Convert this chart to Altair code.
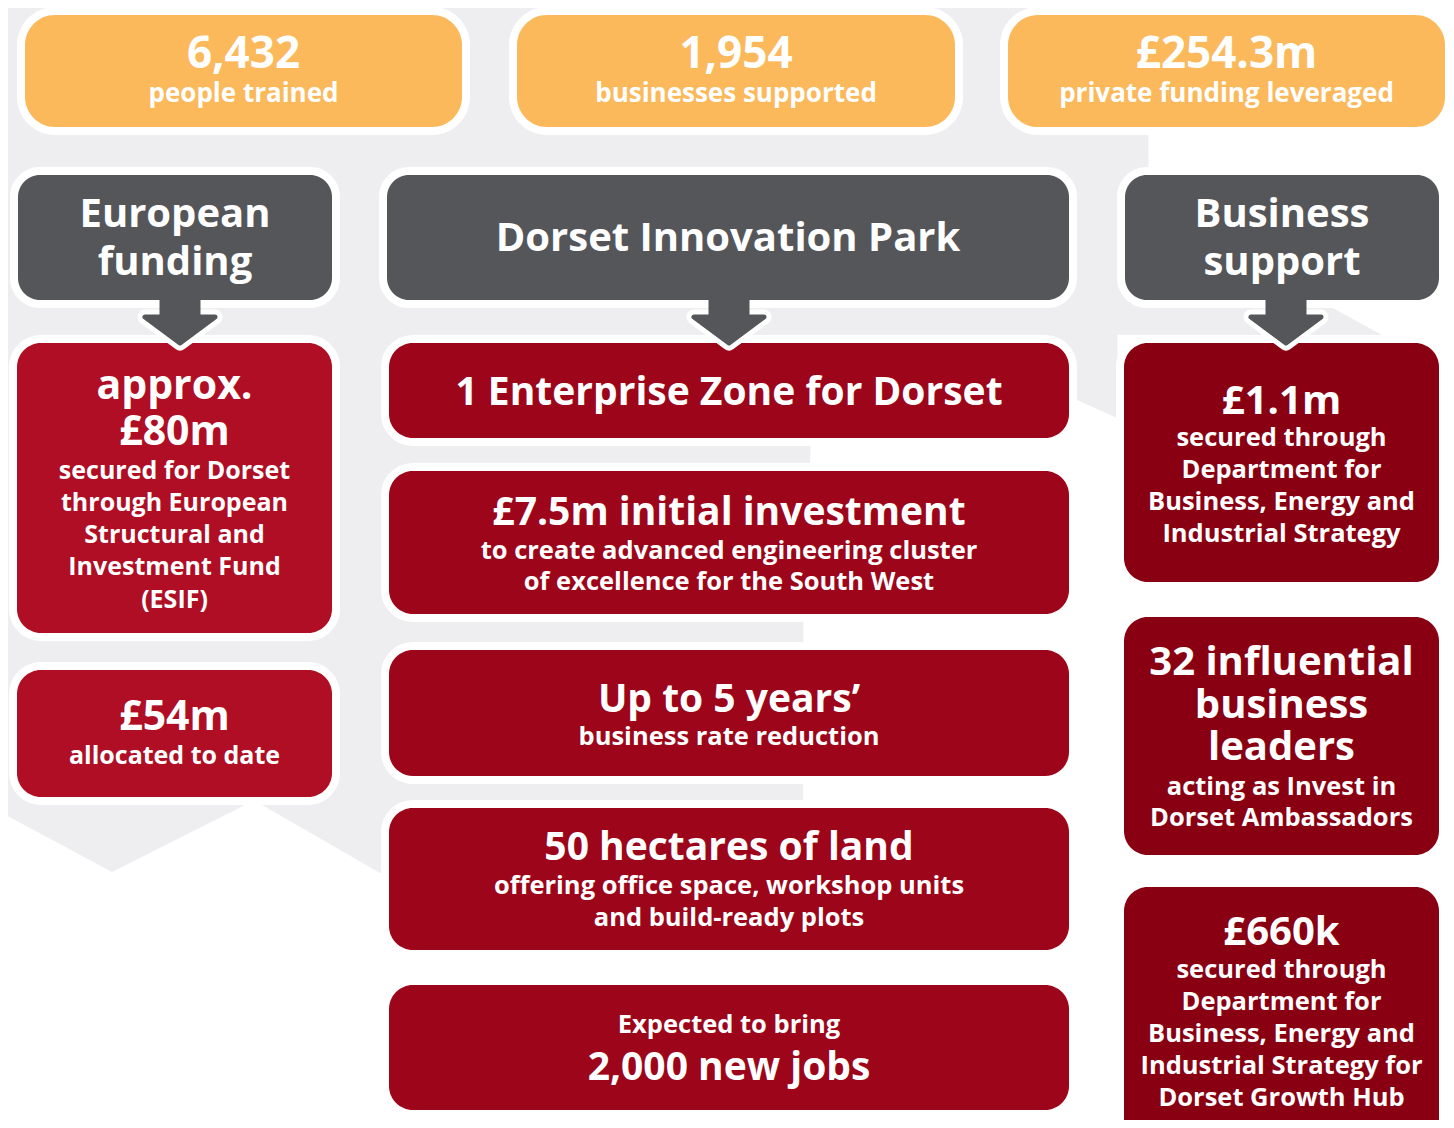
import altair as alt
import pandas as pd

# ---------------- content ----------------
stat_values = ["6,432", "1,954", "£254.3m"]
stat_labels = ["people trained", "businesses supported", "private funding leveraged"]
header_lines = [["European", "funding"], ["Dorset Innovation Park"], ["Business", "support"]]

left_lines = [
    ["approx.", "£80m", "secured for Dorset", "through European", "Structural and",
     "Investment Fund", "(ESIF)"],
    ["£54m", "allocated to date"],
]
left_roles = [["b", "b", "s", "s", "s", "s", "s"], ["b", "s"]]

mid_lines = [
    ["1 Enterprise Zone for Dorset"],
    ["£7.5m initial investment", "to create advanced engineering cluster",
     "of excellence for the South West"],
    ["Up to 5 years’", "business rate reduction"],
    ["50 hectares of land", "offering office space, workshop units", "and build-ready plots"],
    ["Expected to bring", "2,000 new jobs"],
]
mid_roles = [["b"], ["b", "s", "s"], ["b", "s"], ["b", "s", "s"], ["s", "b"]]

right_lines = [
    ["£1.1m", "secured through", "Department for", "Business, Energy and", "Industrial Strategy"],
    ["32 influential", "business", "leaders", "acting as Invest in", "Dorset Ambassadors"],
    ["£660k", "secured through", "Department for", "Business, Energy and",
     "Industrial Strategy for", "Dorset Growth Hub"],
]
right_roles = [["b", "s", "s", "s", "s"], ["b", "b", "b", "s", "s"], ["b", "s", "s", "s", "s", "s"]]

# ---------------- layout ----------------
stat_x = [(25, 462), (517, 955), (1008, 1445)]
stat_y = (15, 127)
stat_text_y = (55, 94)
header_x = [(18, 332), (387, 1069), (1125, 1439)]
header_y = (175, 300)
header_text_y = [[215, 263], [239], [215, 263]]
left_x = (17, 332)
left_y = [(343, 633), (670, 797)]
left_text_y = [[387, 433, 471, 503, 535, 567, 600], [718, 756]]
mid_x = (389, 1069)
mid_y = [(343, 438), (471, 614), (650, 776), (808, 950), (985, 1110)]
mid_text_y = [[393], [513, 551, 582], [700, 737], [848, 886, 918], [1025, 1068]]
right_x = (1124, 1439)
right_y = [(343, 582), (617, 855), (887, 1150)]
right_text_y = [[402, 438, 470, 502, 534], [663, 706, 748, 787, 818],
                [933, 970, 1002, 1034, 1066, 1098]]
arrow_cx = [180, 729, 1286]

# background grey shape (x, top, bottom)
bg_x = [0, 112, 245, 262, 380, 803, 803.5, 810, 810.5, 1077, 1117, 1117.5, 1148, 1148.5, 1333, 1382]
bg_top = [0, 0, 0, 0, 0, 0, 0, 0, 0, 0, 0, 0, 0, 200, 308, 335]
bg_bot = [812, 872, 805, 805, 873, 873, 470, 470, 446, 400, 418, 335, 335, 335, 335, 335]

# ---------------- style ----------------
GREY_BG = "#EEEEF0"
ORANGE = "#FBB95B"
DARK = "#55565A"
RED_L = "#AF0E24"
RED_M = "#9D051A"
RED_R = "#8A0013"
FONT = "Open Sans"
BORDER = 8
SIZES = {"stat_b": 44, "stat_s": 26, "head": 40,
         "L_b": 41, "L_s": 25, "M_b": 39, "M_s": 25.5, "R_b": 40, "R_s": 25.5}

# ---------------- build tables ----------------
def rect_rows(boxes, fill):
    return [{"x": a, "x2": b, "y": c, "y2": d, "fill": fill} for (a, b, c, d) in boxes]

stat_boxes = [(a, b, stat_y[0], stat_y[1]) for (a, b) in stat_x]
head_boxes = [(a, b, header_y[0], header_y[1]) for (a, b) in header_x]
red_boxes = ([(left_x[0], left_x[1], a, b) for (a, b) in left_y] +
             [(mid_x[0], mid_x[1], a, b) for (a, b) in mid_y] +
             [(right_x[0], right_x[1], a, b) for (a, b) in right_y])
red_fills = [RED_L] * len(left_y) + [RED_M] * len(mid_y) + [RED_R] * len(right_y)

def grow(boxes):
    return [(a - BORDER, b + BORDER, c - BORDER, d + BORDER) for (a, b, c, d) in boxes]

df_stat = pd.DataFrame(rect_rows(stat_boxes, ORANGE))
df_head = pd.DataFrame(rect_rows(head_boxes, DARK))
df_red = pd.DataFrame([{"x": a, "x2": b, "y": c, "y2": d, "fill": f}
                       for (a, b, c, d), f in zip(red_boxes, red_fills)])
df_stat_b = pd.DataFrame(rect_rows(grow(stat_boxes), "white"))
df_head_b = pd.DataFrame(rect_rows(grow(head_boxes), "white"))
df_red_b = pd.DataFrame(rect_rows(grow(red_boxes), "white"))

df_bg = pd.DataFrame({"x": bg_x, "y": bg_top, "y2": bg_bot})

# arrows
arrow_rows = []
for i, cx in enumerate(arrow_cx):
    for dx, yb in [(-35, 317), (0, 343), (35, 317)]:
        arrow_rows.append({"id": i, "x": cx + dx, "y": 317, "y2": yb})
df_arrow = pd.DataFrame(arrow_rows)
df_stem = pd.DataFrame([{"x": cx - 20.5, "x2": cx + 20.5, "y": 296, "y2": 324} for cx in arrow_cx])

# texts
text_rows = []
for i, (v, l) in enumerate(zip(stat_values, stat_labels)):
    cx = (stat_x[i][0] + stat_x[i][1]) / 2
    text_rows.append({"x": cx, "y": stat_text_y[0], "t": v, "fs": SIZES["stat_b"]})
    text_rows.append({"x": cx, "y": stat_text_y[1], "t": l, "fs": SIZES["stat_s"]})
for i, lines in enumerate(header_lines):
    cx = (header_x[i][0] + header_x[i][1]) / 2
    for t, y in zip(lines, header_text_y[i]):
        text_rows.append({"x": cx, "y": y, "t": t, "fs": SIZES["head"]})

def add_col(lines_l, roles_l, ys_l, xr, key):
    cx = (xr[0] + xr[1]) / 2
    for lines, roles, ys in zip(lines_l, roles_l, ys_l):
        for t, r, y in zip(lines, roles, ys):
            text_rows.append({"x": cx, "y": y, "t": t, "fs": SIZES[f"{key}_{r}"]})

add_col(left_lines, left_roles, left_text_y, left_x, "L")
add_col(mid_lines, mid_roles, mid_text_y, mid_x, "M")
add_col(right_lines, right_roles, right_text_y, right_x, "R")
df_text = pd.DataFrame(text_rows)

# ---------------- chart ----------------
W, H = 1438, 1112
xs = alt.Scale(domain=[8, 8 + W], nice=False, zero=False)
ys = alt.Scale(domain=[8, 8 + H], nice=False, zero=False, reverse=True)
X = alt.X("x:Q", scale=xs, axis=None)
Y = alt.Y("y:Q", scale=ys, axis=None)

def rects(df, radius):
    return alt.Chart(df).mark_rect(cornerRadius=radius, clip=True).encode(
        x=X, x2="x2:Q", y=Y, y2="y2:Q", color=alt.Color("fill:N", scale=None))

bg = alt.Chart(df_bg).mark_area(color=GREY_BG, clip=True, orient="vertical").encode(
    x=X, y=Y, y2="y2:Q")

arrow_white = alt.Chart(df_arrow).mark_area(
    color="white", stroke="white", strokeWidth=15, strokeJoin="round", orient="vertical"
).encode(x=X, y=Y, y2="y2:Q", detail="id:N")
arrow_grey = alt.Chart(df_arrow).mark_area(
    color=DARK, stroke=DARK, strokeWidth=5, strokeJoin="round", orient="vertical"
).encode(x=X, y=Y, y2="y2:Q", detail="id:N")
stem = alt.Chart(df_stem).mark_rect(color=DARK).encode(x=X, x2="x2:Q", y=Y, y2="y2:Q")

texts = alt.Chart(df_text).mark_text(
    font=FONT, fontWeight="bold", color="white", align="center", baseline="middle", clip=True
).encode(x=X, y=Y, text="t:N", size=alt.Size("fs:Q", scale=None))

chart = alt.layer(
    bg,
    rects(df_stat_b, 38), rects(df_head_b, 30), rects(df_red_b, 32),
    rects(df_stat, 30), rects(df_head, 22), rects(df_red, 24),
    arrow_white, arrow_grey, stem,
    texts,
).properties(
    width=W, height=H, padding=0, autosize=alt.AutoSizeParams(type="none"),
    background="white",
).configure_view(stroke=None)

chart.save("out.html", embed_options={"renderer": "svg", "actions": False})
